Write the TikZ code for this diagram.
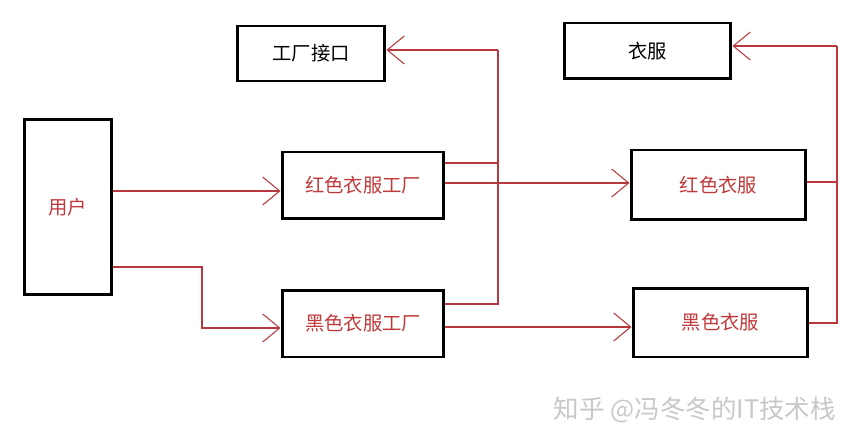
\documentclass[tikz,border=0pt]{standalone}
\usepackage{fontspec}
\newfontfamily\cjk{Noto Sans CJK SC}
\usepackage{xcolor}
\definecolor{lineRed}{HTML}{B8393D}
\definecolor{textRed}{HTML}{C0393B}
\definecolor{markGray}{HTML}{C8C8C8}
\usetikzlibrary{arrows.meta}

\begin{document}
\begin{tikzpicture}[
  x=0.02cm, y=-0.02cm,
  box/.style={draw=black, line width=1.7pt, align=center, font=\cjk\fontsize{11}{13}\selectfont, inner sep=0pt},
  redbox/.style={box, text=textRed},
  wire/.style={draw=lineRed, line width=0.6pt},
  link/.style={wire, -{Straight Barb[length=3.4mm, width=5.6mm]}}
]
  \useasboundingbox (0,0) rectangle (863,446);

  \node[redbox, minimum width=1.76cm, minimum height=3.5cm] (user) at (68,207) {用户};
  \node[box, minimum width=2.96cm, minimum height=1.1cm] (iface) at (311,53.5) {工厂接口};
  \node[redbox, minimum width=3.24cm, minimum height=1.34cm] (redf) at (363,185.5) {红色衣服工厂};
  \node[redbox, minimum width=3.24cm, minimum height=1.34cm] (blackf) at (363,323.5) {黑色衣服工厂};
  \node[box, minimum width=3.34cm, minimum height=1.12cm] (cloth) at (647.5,51) {衣服};
  \node[redbox, minimum width=3.5cm, minimum height=1.4cm] (redc) at (718.5,185) {红色衣服};
  \node[redbox, minimum width=3.5cm, minimum height=1.38cm] (blackc) at (720.5,322.5) {黑色衣服};

  \coordinate (ubend) at (202,328);
  \coordinate (fbus) at (498,50);
  \coordinate (cbus) at (837,46);

  % user to the two factories
  \draw[link] (user.east |- 0,191) -- (redf.west |- 0,191);
  \draw[link] (user.east |- 0,267) -| (ubend) -- (blackf.west |- ubend);

  % factories make clothes
  \draw[link] (redf.east |- 0,183) -- (redc.west |- 0,183);
  \draw[link] (blackf.east |- 0,327) -- (blackc.west |- 0,327);

  % implements
  \draw[wire] (redf.east |- 0,163) -- (fbus |- 0,163);
  \draw[wire] (blackf.east |- 0,304) -- (fbus |- 0,304) -- (fbus);
  \draw[link] (fbus) -- (iface.east |- fbus);
  \draw[wire] (redc.east |- 0,182) -- (cbus |- 0,182);
  \draw[wire] (blackc.east |- 0,323) -- (cbus |- 0,323) -- (cbus);
  \draw[link] (cbus) -- (cloth.east |- cbus);

  \node[text=markGray, font=\cjk\fontsize{14.5}{16}\selectfont, anchor=east] (mark) at (842,410) {知乎 @冯冬冬的IT技术栈};
\end{tikzpicture}
\end{document}
